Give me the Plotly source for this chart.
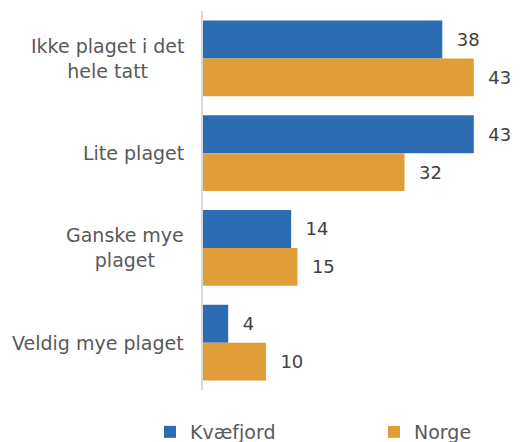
import plotly.graph_objects as go

categories = ["Ikke plaget i det<br>hele tatt", "Lite plaget", "Ganske mye<br>plaget", "Veldig mye plaget"]
kvaefjord = [38, 43, 14, 4]
norge = [43, 32, 15, 10]
series_names = ["Kvæfjord", "Norge"]
colors = ["#2B6CB3", "#DF9E37"]

FONT = "DejaVu Sans"
# the page body has an 8px default margin, so the figure is drawn 8px smaller
OFF = 8
W, H = 521 - OFF, 442 - OFF
PLOT_LEFT, PLOT_TOP, PLOT_BOTTOM = 203 - OFF, 11 - OFF, 390 - OFF
PLOT_W = W - PLOT_LEFT
PLOT_H = PLOT_BOTTOM - PLOT_TOP

fig = go.Figure()
for i, (name, vals, col) in enumerate(zip(series_names, [kvaefjord, norge], colors)):
    fig.add_trace(go.Bar(
        y=categories, x=vals, name=name, orientation="h",
        marker=dict(color=col, line=dict(width=0)),
        text=vals, texttemplate="  %{x}", textposition="outside", cliponaxis=False,
        textfont=dict(family=FONT, size=18, color="#404040"),
        legend="legend" if i == 0 else "legend2",
    ))

for cat in categories:
    fig.add_annotation(x=0, xref="paper", y=cat, yref="y", text=cat, showarrow=False,
                       xanchor="right", yanchor="middle", align="center", xshift=-17,
                       font=dict(family=FONT, size=19, color="#595959"))

leg_y = (H - (432 - OFF)) / H
leg_common = dict(orientation="h", yref="container", xref="container", y=leg_y, yanchor="middle",
                  xanchor="left", itemwidth=30,
                  font=dict(family=FONT, size=19, color="#595959"), bgcolor="rgba(0,0,0,0)")
fig.update_layout(
    width=W, height=H,
    margin=dict(l=PLOT_LEFT, r=0, t=PLOT_TOP, b=H - PLOT_BOTTOM),
    paper_bgcolor="white", plot_bgcolor="white",
    barmode="group", bargap=0.2, bargroupgap=0,
    font=dict(family=FONT, size=18, color="#595959"),
    showlegend=True,
    legend=dict(x=(150 - OFF) / W, **leg_common),
    legend2=dict(x=(374 - OFF) / W, **leg_common),
    xaxis=dict(range=[0, 50.5], showgrid=False, showticklabels=False, zeroline=False, showline=False,
               fixedrange=True, automargin=False),
    yaxis=dict(autorange="reversed", showgrid=False, showline=True, linecolor="#D9D9D9", linewidth=2,
               showticklabels=False, ticks="", automargin=False),
)

fig.write_html("out.html")
